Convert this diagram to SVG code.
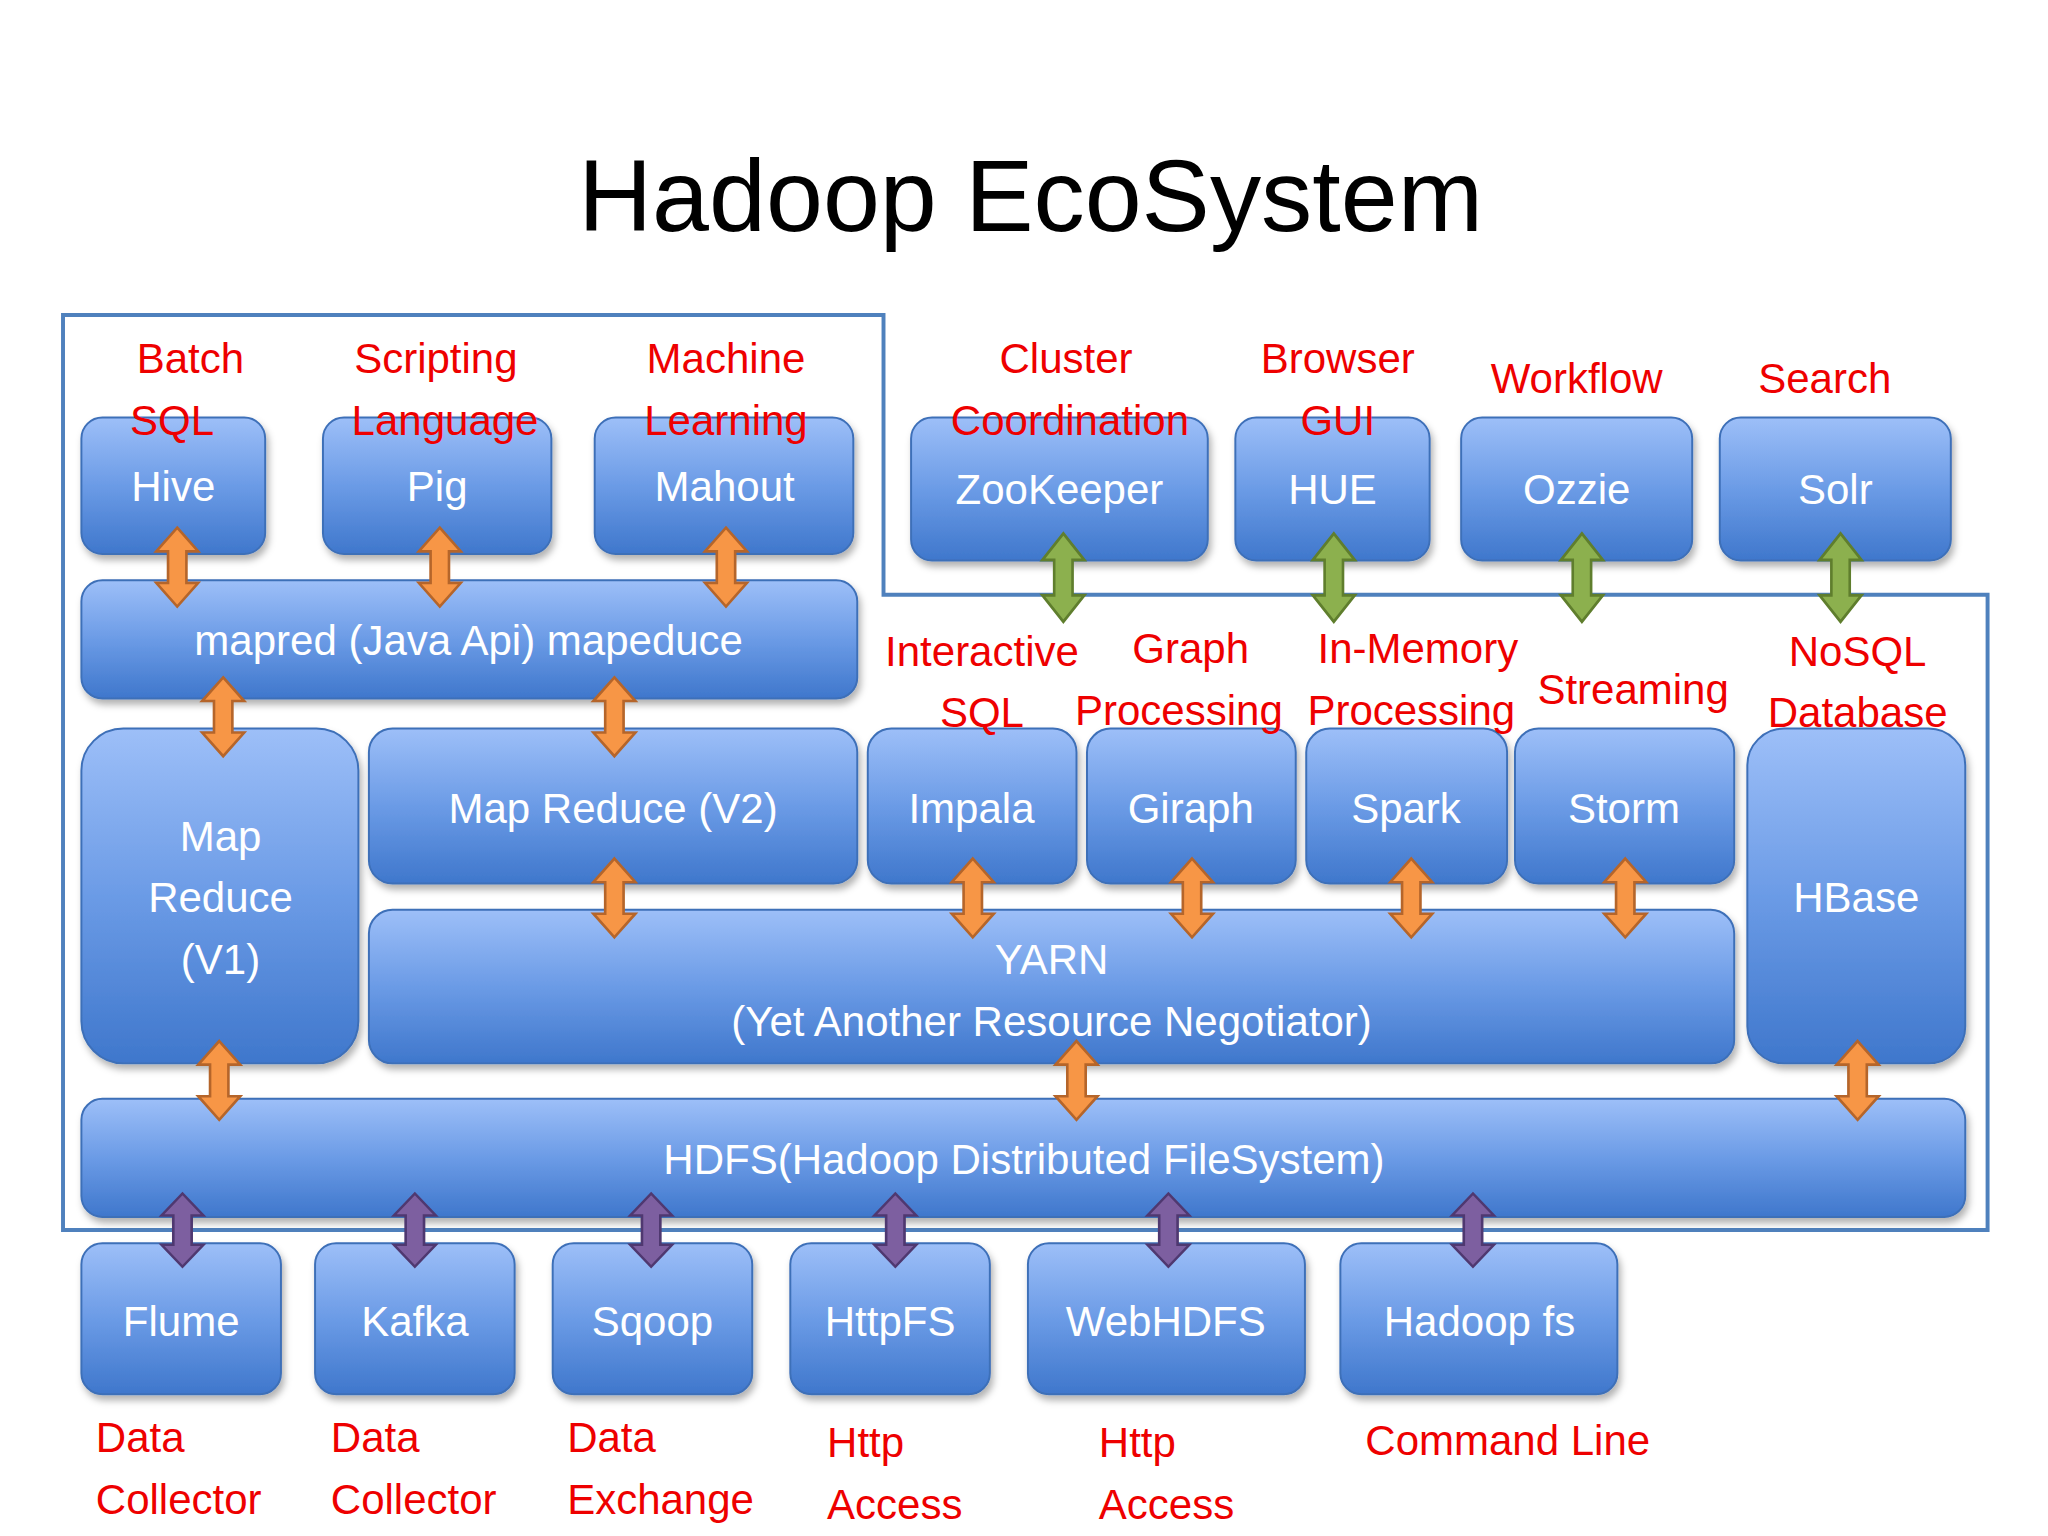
<svg xmlns="http://www.w3.org/2000/svg" width="2048" height="1536" viewBox="0 0 2048 1536">
<defs>
<linearGradient id="g" x1="0" y1="0" x2="0" y2="1"><stop offset="0" stop-color="#9dbff8"/><stop offset="0.5" stop-color="#6b9be6"/><stop offset="1" stop-color="#3f77cc"/></linearGradient>
<filter id="sh" x="-10%" y="-10%" width="120%" height="130%"><feDropShadow dx="2" dy="4" stdDeviation="3" flood-color="#000" flood-opacity="0.3"/></filter>
<path id="ar" d="M0,-30 L16,-12 L7,-12 L7,12 L16,12 L0,30 L-16,12 L-7,12 L-7,-12 L-16,-12 Z"/>
<style>
.n{fill:url(#g);stroke:#3e6fb8;stroke-width:1.5;filter:url(#sh)}
.t{font-family:"Liberation Sans",Arial,sans-serif;font-size:32px;fill:#fff;text-anchor:middle}
.r{font-family:"Liberation Sans",Arial,sans-serif;font-size:32px;fill:#ee0000;text-anchor:middle}
.rl{font-family:"Liberation Sans",Arial,sans-serif;font-size:32px;fill:#ee0000}
.o{fill:#f79646;stroke:#b5652a;stroke-width:2}
.gr{fill:#8cb04e;stroke:#5f7e2d;stroke-width:2}
.p{fill:#7d5fa0;stroke:#4f3870;stroke-width:2}
</style>
</defs>
<rect width="2048" height="1536" fill="#fff"/>
<g transform="scale(1.3128)">
<text x="785" y="176" font-family="Liberation Sans,Arial,sans-serif" font-size="78" text-anchor="middle" fill="#000">Hadoop EcoSystem</text>
<path d="M48,240 L673,240 L673,453 L1514,453 L1514,937 L48,937 Z" fill="none" stroke="#4f81bd" stroke-width="3"/>
<g id="hive"><rect class="n" x="62" y="318" width="140" height="104" rx="16"/><text class="t" x="132" y="382">Hive</text></g>
<g id="pig"><rect class="n" x="246" y="318" width="174" height="104" rx="16"/><text class="t" x="333" y="382">Pig</text></g>
<g id="mahout"><rect class="n" x="453" y="318" width="197" height="104" rx="16"/><text class="t" x="552" y="382">Mahout</text></g>
<g id="zookeeper"><rect class="n" x="694" y="318" width="226" height="109" rx="16"/><text class="t" x="807" y="384">ZooKeeper</text></g>
<g id="hue"><rect class="n" x="941" y="318" width="148" height="109" rx="16"/><text class="t" x="1015" y="384">HUE</text></g>
<g id="ozzie"><rect class="n" x="1113" y="318" width="176" height="109" rx="16"/><text class="t" x="1201" y="384">Ozzie</text></g>
<g id="solr"><rect class="n" x="1310" y="318" width="176" height="109" rx="16"/><text class="t" x="1398" y="384">Solr</text></g>
<g id="mapred"><rect class="n" x="62" y="442" width="591" height="90" rx="16"/><text class="t" x="357" y="499">mapred  (Java Api) mapeduce</text></g>
<g id="mrv1"><rect class="n" x="62" y="555" width="211" height="255" rx="32"/><text class="t" x="168" y="648">Map</text><text class="t" x="168" y="695">Reduce</text><text class="t" x="168" y="742">(V1)</text></g>
<g id="mrv2"><rect class="n" x="281" y="555" width="372" height="118" rx="18"/><text class="t" x="467" y="627">Map Reduce (V2)</text></g>
<g id="impala"><rect class="n" x="661" y="555" width="159" height="118" rx="18"/><text class="t" x="740" y="627">Impala</text></g>
<g id="giraph"><rect class="n" x="828" y="555" width="159" height="118" rx="18"/><text class="t" x="907" y="627">Giraph</text></g>
<g id="spark"><rect class="n" x="995" y="555" width="153" height="118" rx="18"/><text class="t" x="1071" y="627">Spark</text></g>
<g id="storm"><rect class="n" x="1154" y="555" width="167" height="118" rx="18"/><text class="t" x="1237" y="627">Storm</text></g>
<g id="hbase"><rect class="n" x="1331" y="555" width="166" height="255" rx="28"/><text class="t" x="1414" y="695">HBase</text></g>
<g id="yarn"><rect class="n" x="281" y="693" width="1040" height="117" rx="18"/><text class="t" x="801" y="742">YARN</text><text class="t" x="801" y="789">(Yet Another Resource Negotiator)</text></g>
<g id="hdfs"><rect class="n" x="62" y="837" width="1435" height="90" rx="16"/><text class="t" x="780" y="894">HDFS(Hadoop Distributed FileSystem)</text></g>
<g id="flume"><rect class="n" x="62" y="947" width="152" height="115" rx="16"/><text class="t" x="138" y="1018">Flume</text></g>
<g id="kafka"><rect class="n" x="240" y="947" width="152" height="115" rx="16"/><text class="t" x="316" y="1018">Kafka</text></g>
<g id="sqoop"><rect class="n" x="421" y="947" width="152" height="115" rx="16"/><text class="t" x="497" y="1018">Sqoop</text></g>
<g id="httpfs"><rect class="n" x="602" y="947" width="152" height="115" rx="16"/><text class="t" x="678" y="1018">HttpFS</text></g>
<g id="webhdfs"><rect class="n" x="783" y="947" width="211" height="115" rx="16"/><text class="t" x="888" y="1018">WebHDFS</text></g>
<g id="hadoopfs"><rect class="n" x="1021" y="947" width="211" height="115" rx="16"/><text class="t" x="1127" y="1018">Hadoop fs</text></g>
<g id="connectors">
<use href="#ar" class="o" transform="translate(135,432)"/>
<use href="#ar" class="o" transform="translate(335,432)"/>
<use href="#ar" class="o" transform="translate(553,432)"/>
<use href="#ar" class="o" transform="translate(170,546)"/>
<use href="#ar" class="o" transform="translate(468,546)"/>
<use href="#ar" class="o" transform="translate(468,684)"/>
<use href="#ar" class="o" transform="translate(741,684)"/>
<use href="#ar" class="o" transform="translate(908,684)"/>
<use href="#ar" class="o" transform="translate(1075,684)"/>
<use href="#ar" class="o" transform="translate(1238,684)"/>
<use href="#ar" class="o" transform="translate(167,823)"/>
<use href="#ar" class="o" transform="translate(820,823)"/>
<use href="#ar" class="o" transform="translate(1415,823)"/>
<use href="#ar" class="gr" transform="translate(810,440) scale(1,1.12)"/>
<use href="#ar" class="gr" transform="translate(1016,440) scale(1,1.12)"/>
<use href="#ar" class="gr" transform="translate(1205,440) scale(1,1.12)"/>
<use href="#ar" class="gr" transform="translate(1402,440) scale(1,1.12)"/>
<use href="#ar" class="p" transform="translate(139,937) scale(1,0.93)"/>
<use href="#ar" class="p" transform="translate(316,937) scale(1,0.93)"/>
<use href="#ar" class="p" transform="translate(496,937) scale(1,0.93)"/>
<use href="#ar" class="p" transform="translate(682,937) scale(1,0.93)"/>
<use href="#ar" class="p" transform="translate(890,937) scale(1,0.93)"/>
<use href="#ar" class="p" transform="translate(1122,937) scale(1,0.93)"/>
</g>
<g id="labels">
<text class="r" x="145" y="284">Batch</text><text class="r" x="131" y="331">SQL</text>
<text class="r" x="332" y="284">Scripting</text><text class="r" x="339" y="331">Language</text>
<text class="r" x="553" y="284">Machine</text><text class="r" x="553" y="331">Learning</text>
<text class="r" x="812" y="284">Cluster</text><text class="r" x="815" y="331">Coordination</text>
<text class="r" x="1019" y="284">Browser</text><text class="r" x="1019" y="331">GUI</text>
<text class="r" x="1201" y="299">Workflow</text>
<text class="r" x="1390" y="299">Search</text>
<text class="r" x="748" y="507">Interactive</text><text class="r" x="748" y="554">SQL</text>
<text class="r" x="907" y="505">Graph</text><text class="r" x="898" y="552">Processing</text>
<text class="r" x="1080" y="505">In-Memory</text><text class="r" x="1075" y="552">Processing</text>
<text class="r" x="1244" y="536">Streaming</text>
<text class="r" x="1415" y="507">NoSQL</text><text class="r" x="1415" y="554">Database</text>
<text class="rl" x="73" y="1106">Data</text><text class="rl" x="73" y="1153">Collector</text>
<text class="rl" x="252" y="1106">Data</text><text class="rl" x="252" y="1153">Collector</text>
<text class="rl" x="432" y="1106">Data</text><text class="rl" x="432" y="1153">Exchange</text>
<text class="rl" x="630" y="1110">Http</text><text class="rl" x="630" y="1157">Access</text>
<text class="rl" x="837" y="1110">Http</text><text class="rl" x="837" y="1157">Access</text>
<text class="rl" x="1040" y="1108">Command Line</text>
</g>
</g>
</svg>
